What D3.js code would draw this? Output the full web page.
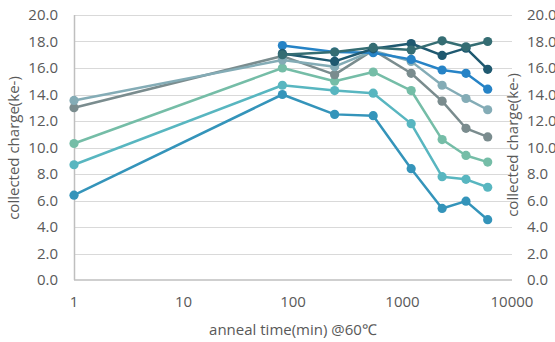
<!DOCTYPE html>
<html><head><meta charset="utf-8">
<script src="https://cdn.jsdelivr.net/npm/d3@7"></script>
<style>body{margin:0;background:#fff}svg{display:block}</style>
</head><body>
<svg id="c" width="555" height="342"></svg>
<script>
const times = [1, 80, 240, 540, 1200, 2300, 3800, 6000];
const seriesA = [6.4, 14.0, 12.5, 12.4, 8.4, 5.4, 5.95, 4.55];
const seriesB = [8.7, 14.7, 14.3, 14.1, 11.8, 7.8, 7.6, 7.0];
const seriesC = [10.3, 16.0, 15.0, 15.7, 14.3, 10.6, 9.4, 8.9];
const seriesD = [13.0, 16.9, 15.5, 17.35, 15.6, 13.5, 11.45, 10.8];
const seriesE = [13.55, 16.6, 16.1, 17.3, 16.5, 14.7, 13.7, 12.85];
const seriesF = [null, 17.7, 17.2, 17.15, 16.65, 15.85, 15.6, 14.4];
const seriesG = [null, 17.1, 16.5, 17.45, 17.85, 16.95, 17.5, 15.9];
const seriesH = [null, 17.0, 17.2, 17.55, 17.35, 18.05, 17.6, 18.0];
const colors = ["#3494ba", "#58b6c0", "#75bda7", "#7a8c8e", "#84acb6", "#2683c6", "#1f5970", "#356d73"];
const yTicks = [0, 2, 4, 6, 8, 10, 12, 14, 16, 18, 20];
const xTicks = [1, 10, 100, 1000, 10000];
const yTitle = "collected charge(ke-)";
const xTitle = "anneal time(min) @60\u2103";

const allSeries = [seriesA, seriesB, seriesC, seriesD, seriesE, seriesF, seriesG, seriesH];
const svg = d3.select("#c");
const font = "'Open Sans', sans-serif";
const fs = 15;
const x = d3.scaleLog().domain([1, 10000]).range([74, 512]);
const y = d3.scaleLinear().domain([0, 20]).range([280, 15]);

// gridlines
svg.append("g").selectAll("line").data(yTicks.filter(d => d > 0)).join("line")
  .attr("x1", 74).attr("x2", 512)
  .attr("y1", d => Math.round(y(d)) + 0.5).attr("y2", d => Math.round(y(d)) + 0.5)
  .attr("stroke", "#d9d9d9").attr("stroke-width", 1);

// axis lines
svg.append("line").attr("x1", 74.5).attr("x2", 74.5).attr("y1", y(20)).attr("y2", y(0))
  .attr("stroke", "#bfbfbf").attr("stroke-width", 1.5);
svg.append("line").attr("x1", 74).attr("x2", 512).attr("y1", y(0)).attr("y2", y(0))
  .attr("stroke", "#bfbfbf").attr("stroke-width", 1.5);

const fmt = d3.format(".1f");
svg.append("g").selectAll("text").data(yTicks).join("text")
  .attr("x", 58).attr("y", d => y(d)).attr("dy", "0.35em")
  .attr("text-anchor", "end").attr("font-family", font).attr("font-size", fs)
  .attr("fill", "#595959").text(d => fmt(d));
svg.append("g").selectAll("text").data(yTicks).join("text")
  .attr("x", 527).attr("y", d => y(d)).attr("dy", "0.35em")
  .attr("text-anchor", "start").attr("font-family", font).attr("font-size", fs)
  .attr("fill", "#595959").text(d => fmt(d));
svg.append("g").selectAll("text").data(xTicks).join("text")
  .attr("x", d => x(d)).attr("y", 302).attr("dy", "0.35em")
  .attr("text-anchor", "middle").attr("font-family", font).attr("font-size", fs)
  .attr("fill", "#595959").text(d => d);

svg.append("text").attr("transform", "translate(14,148) rotate(-90)")
  .attr("text-anchor", "middle").attr("dy", "0.35em").attr("font-family", font).attr("font-size", fs)
  .attr("fill", "#595959").text(yTitle);
svg.append("text").attr("transform", "translate(513,145) rotate(-90)")
  .attr("text-anchor", "middle").attr("dy", "0.35em").attr("font-family", font).attr("font-size", fs)
  .attr("fill", "#595959").text(yTitle);
svg.append("text").attr("x", 293).attr("y", 330).attr("dy", "0.35em")
  .attr("text-anchor", "middle").attr("font-family", font).attr("font-size", fs)
  .attr("fill", "#595959").text(xTitle);

const line = d3.line().defined(d => d[1] != null).x(d => x(d[0])).y(d => y(d[1]));
allSeries.forEach((s, i) => {
  const pts = times.map((t, j) => [t, s[j]]);
  const g = svg.append("g");
  g.append("path").attr("d", line(pts)).attr("fill", "none")
    .attr("stroke", colors[i]).attr("stroke-width", 2.5).attr("stroke-linejoin", "round");
  g.selectAll("circle").data(pts.filter(d => d[1] != null)).join("circle")
    .attr("cx", d => x(d[0])).attr("cy", d => y(d[1])).attr("r", 4.6)
    .attr("fill", colors[i]);
});
</script>
</body></html>
